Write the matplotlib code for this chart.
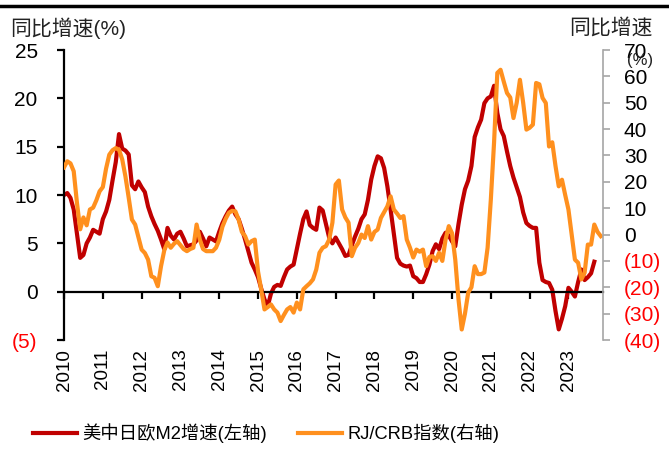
import numpy as np
import matplotlib.pyplot as plt
from matplotlib.lines import Line2D

plt.rcParams['font.family'] = ['Liberation Sans', 'Noto Sans CJK SC']

# 月度数据, 2010年1月起
years = [str(y) for y in range(2010, 2024)]

m2_growth = [
    10.0, 10.2, 9.7, 8.5, 6.0, 3.5, 3.8, 5.0, 5.6, 6.4, 6.2, 6.0,      # 2010
    7.5, 8.3, 9.5, 11.5, 13.4, 16.3, 14.8, 14.6, 14.2, 11.0, 10.6, 11.4,  # 2011
    10.8, 10.3, 8.8, 7.8, 7.0, 6.3, 5.4, 4.4, 6.6, 5.8, 5.4, 6.0,     # 2012
    6.2, 5.5, 4.7, 4.8, 4.9, 5.3, 6.2, 5.5, 4.7, 5.6, 5.4, 5.2,       # 2013
    6.2, 7.1, 7.8, 8.4, 8.8, 8.0, 7.5, 6.5, 5.4, 4.2, 3.0, 2.3,       # 2014
    1.5, 0.3, -0.8, -1.5, -0.2, 0.5, 0.7, 0.6, 1.5, 2.3, 2.6, 2.8,    # 2015
    4.4, 6.0, 7.5, 8.3, 6.9, 6.6, 6.4, 8.7, 8.4, 7.0, 5.6, 5.0,       # 2016
    5.6, 5.0, 4.4, 3.7, 3.8, 4.8, 5.7, 6.5, 7.5, 8.0, 9.5, 11.6,      # 2017
    13.0, 14.0, 13.8, 12.8, 10.9, 8.5, 6.0, 3.5, 2.9, 2.7, 2.6, 2.7,  # 2018
    1.6, 1.4, 1.0, 1.0, 1.8, 2.8, 4.2, 4.9, 4.4, 5.5, 6.1, 5.8,       # 2019
    5.2, 4.7, 7.0, 9.0, 10.6, 11.5, 13.0, 16.0, 17.0, 17.8, 19.5, 20.0,  # 2020
    20.2, 21.3, 18.5, 16.8, 16.1, 14.5, 13.0, 11.8, 10.8, 9.8, 8.2, 7.1,  # 2021
    6.8, 6.6, 6.6, 3.0, 1.2, 1.0, 0.9, 0.2, -2.0, -3.9, -2.8, -1.5,   # 2022
    0.4, 0.0, -0.5, 1.0, 2.3, 1.2, 1.5, 1.9, 3.1,                     # 2023
]

crb_growth = [
    25.5, 27.8, 27.0, 24.0, 12.0, 2.0, 6.5, 3.5, 9.5, 10.2, 13.0, 16.4,      # 2010
    18.0, 25.0, 30.3, 32.0, 32.8, 32.2, 28.5, 22.0, 14.0, 5.7, 3.8, -1.0,   # 2011
    -5.7, -7.0, -9.5, -15.8, -16.4, -19.6, -12.0, -6.0, -3.0, -5.0, -3.5, -2.5,  # 2012
    -4.0, -5.5, -6.3, -5.5, -5.0, 3.8, -1.9, -5.5, -6.3, -6.3, -6.3, -5.0,  # 2013
    -2.0, 3.0, 6.0, 8.3, 9.0, 8.8, 5.7, 1.0, -0.6, -3.8, -2.5, -1.9,        # 2014
    -14.0, -21.0, -28.4, -27.5, -26.5, -28.4, -29.6, -32.8, -30.5, -28.4, -27.5, -29.6,  # 2015
    -25.8, -28.4, -20.8, -19.6, -18.5, -17.0, -13.3, -6.9, -5.0, -4.4, -1.9, 4.5,  # 2016
    19.0, 20.5, 9.5, 6.5, 4.5, -8.2, -5.0, -3.2, 0.0, -1.3, 3.2, -1.9,      # 2017
    1.0, 1.9, 6.3, 8.5, 10.7, 14.5, 9.5, 8.0, 6.3, 7.0, -1.9, -5.0,         # 2018
    -8.7, -5.7, -6.5, -5.7, -12.0, -8.5, -8.2, -10.0, -6.9, -10.0, -1.9, 3.2,  # 2019
    0.5, -9.5, -24.6, -36.0, -30.0, -22.0, -20.0, -12.0, -15.0, -15.0, -14.4, -5.0,  # 2020
    13.3, 35.0, 61.3, 62.5, 58.0, 53.7, 52.0, 44.2, 50.0, 58.7, 50.0, 39.8,  # 2021
    40.5, 41.7, 57.5, 57.0, 51.8, 49.9, 33.4, 35.0, 26.0, 18.3, 20.8, 15.0,  # 2022
    9.5, 0.0, -9.5, -10.7, -17.0, -14.5, -3.8, -3.8, 3.8, 1.0, -0.6,       # 2023
]

left_ticks = [-5, 0, 5, 10, 15, 20, 25]
right_ticks = [-40, -30, -20, -10, 0, 10, 20, 30, 40, 50, 60, 70]

red = '#C00000'
orange = '#FF901E'


def fmt(v):
    return '(%d)' % abs(v) if v < 0 else '%d' % v


fig = plt.figure(figsize=(6.69, 4.55), dpi=100)
ax = fig.add_axes([0.0957, 0.2527, 0.8057, 0.6374])
ax2 = ax.twinx()

l1, = ax.plot(np.arange(len(m2_growth)), m2_growth, color=red, lw=3)
l2, = ax2.plot(np.arange(len(crb_growth)), crb_growth, color=orange, lw=3)

ax.set_xlim(0, 166.7)
ax.set_ylim(-5, 25)
ax2.set_ylim(-40, 70)

ax.set_xticks(np.arange(len(years)) * 12, labels=years)
ax.set_yticks(left_ticks, labels=[fmt(v) for v in left_ticks])
ax2.set_yticks(right_ticks, labels=[fmt(v) for v in right_ticks])

for s in ['top', 'right']:
    ax.spines[s].set_visible(False)
for s in ['top', 'left', 'bottom']:
    ax2.spines[s].set_visible(False)
ax.spines['left'].set_linewidth(1.6)
ax.spines['bottom'].set_position(('data', 0))
ax.spines['bottom'].set_linewidth(1.6)
ax2.spines['right'].set_color('#A6A6A6')
ax2.spines['right'].set_linewidth(1.2)

ax.tick_params(axis='y', length=5, width=1.6, pad=14, labelsize=15)
ax.tick_params(axis='x', length=5, width=1.6, pad=36, labelsize=13.5, labelrotation=90)
ax2.tick_params(axis='y', length=5, width=1.2, color='#A6A6A6', pad=10, labelsize=15)

for lab, v in zip(ax.get_yticklabels(), left_ticks):
    if v < 0:
        lab.set_color('#FF0000')
for lab, v in zip(ax2.get_yticklabels(), right_ticks):
    if v < 0:
        lab.set_color('#FF0000')

fig.text(0.015, 0.938, '同比增速(%)', fontsize=15, va='center', ha='left', color='#222222')
fig.text(0.913, 0.94, '同比增速', fontsize=15, va='center', ha='center', color='#222222')
fig.text(0.957, 0.868, '(%)', fontsize=12, va='center', ha='center', color='#222222')

fig.add_artist(Line2D([0, 1], [0.986, 0.986], transform=fig.transFigure, color='black', lw=2.5))

fig.legend([l1, l2], ['美中日欧M2增速(左轴)', 'RJ/CRB指数(右轴)'], loc='center',
           bbox_to_anchor=(0.398, 0.048), ncol=2, frameon=False, fontsize=13.2,
           handlelength=2.4, handletextpad=0.3, columnspacing=1.7)

fig.savefig('out.png', dpi=100)
